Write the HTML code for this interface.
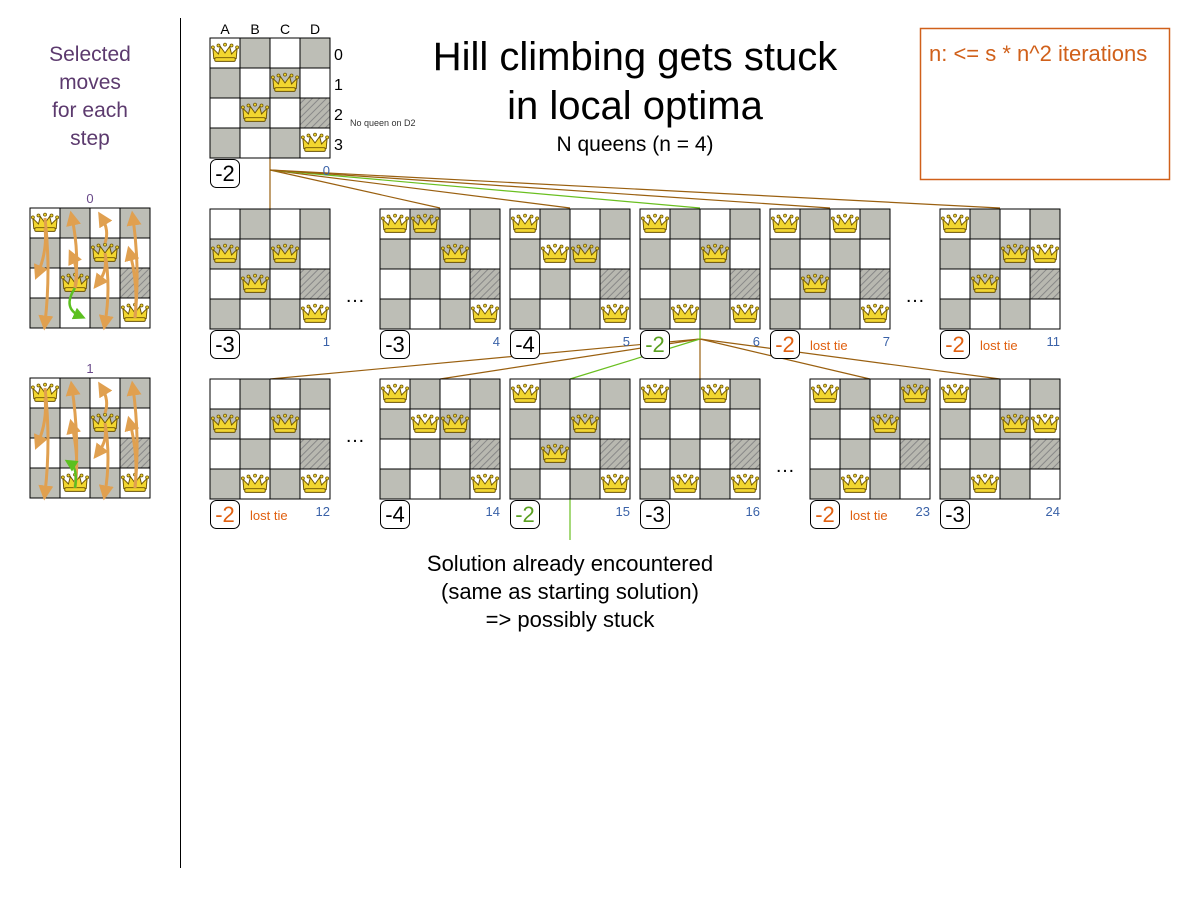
<!DOCTYPE html>
<html><head><meta charset="utf-8"><style>
body{margin:0;background:#fff;}
svg{display:block;font-family:"Liberation Sans",sans-serif;}
</style></head><body>
<svg id="s" width="1200" height="900" viewBox="0 0 1200 900">
<defs>
<pattern id="hatch" width="5" height="5" patternUnits="userSpaceOnUse" patternTransform="rotate(45)">
<rect width="5" height="5" fill="#b8b8b0"/><line x1="0" y1="0" x2="0" y2="5" stroke="#888" stroke-width="2"/></pattern>
<symbol id="crown" viewBox="0 0 30 22">
<path d="M3 17 L2 6 L8 12 L10 4 L15 11 L20 4 L22 12 L28 6 L27 17 Z" fill="#f2d630" stroke="#6b5200" stroke-width="1"/>
<rect x="4" y="16" width="22" height="4" rx="1.5" fill="#f2d630" stroke="#6b5200" stroke-width="1"/>
<circle cx="2" cy="5" r="1.6" fill="#f2d630" stroke="#6b5200" stroke-width=".8"/>
<circle cx="8" cy="3" r="1.6" fill="#f2d630" stroke="#6b5200" stroke-width=".8"/>
<circle cx="15" cy="2" r="1.6" fill="#f2d630" stroke="#6b5200" stroke-width=".8"/>
<circle cx="22" cy="3" r="1.6" fill="#f2d630" stroke="#6b5200" stroke-width=".8"/>
<circle cx="28" cy="5" r="1.6" fill="#f2d630" stroke="#6b5200" stroke-width=".8"/>
</symbol>
<marker id="ah" markerWidth="5" markerHeight="5" refX="2.5" refY="2.5" orient="auto"><path d="M0 0 L5 2.5 L0 5 Z" fill="#e0a050"/></marker>
<marker id="ahg" markerWidth="5" markerHeight="5" refX="2.5" refY="2.5" orient="auto"><path d="M0 0 L5 2.5 L0 5 Z" fill="#5cc020"/></marker>
</defs>
<line x1="180.5" y1="18" x2="180.5" y2="868" stroke="#000" stroke-width="1"/>
<g fill="#5c3a6e" font-size="21" text-anchor="middle">
<text x="90" y="61">Selected</text><text x="90" y="89">moves</text><text x="90" y="117">for each</text><text x="90" y="145">step</text></g>
<g font-size="40" text-anchor="middle" fill="#000">
<text x="635" y="70">Hill climbing gets stuck</text><text x="635" y="119">in local optima</text></g>
<text x="635" y="151" font-size="21" text-anchor="middle">N queens (n = 4)</text>
<rect x="920.5" y="28.5" width="249" height="151" fill="#fff" stroke="#d0601a" stroke-width="1.5"/>
<text x="929" y="61" font-size="22" fill="#d0601a">n: &lt;= s * n^2 iterations</text>
<g id="links"></g>
<g id="boards"></g>
<g fill="#000" font-size="22" text-anchor="middle">
<text x="570" y="571">Solution already encountered</text><text x="570" y="599">(same as starting solution)</text><text x="570" y="627">=&gt; possibly stuck</text></g>
<g font-size="20"><text x="345" y="302">…</text><text x="345" y="442">…</text><text x="905" y="302">…</text><text x="775" y="472">…</text></g>
</svg>
<script>
const boardIds=["0","1","4","5","6","7","11","12","14","15","16","23","24"];
const boardQueens=[[0,2,1,3],[1,2,1,3],[0,0,1,3],[0,1,1,3],[0,3,1,3],[0,2,0,3],[0,2,1,1],[1,3,1,3],[0,1,1,3],[0,2,1,3],[0,3,0,3],[0,3,1,0],[0,3,1,1]];
const boardScores=[-2,-3,-3,-4,-2,-2,-2,-2,-4,-2,-3,-2,-3];
const boardStatus=["","","","","chosen","tie","tie","tie","","chosen","","tie",""];
const boardX=[210,210,380,510,640,770,940,210,380,510,640,810,940];
const boardY=[38,209,209,209,209,209,209,379,379,379,379,379,379];
const NS="http://www.w3.org/2000/svg";
const svg=document.getElementById('s');
const G=document.getElementById('boards');
function el(t,a,p){const e=document.createElementNS(NS,t);for(const k in a)e.setAttribute(k,a[k]);(p||G).appendChild(e);return e;}
function drawBoard(x,y,q,name){
  const g=el('g',{});
  
  
  for(let r=0;r<4;r++)for(let c=0;c<4;c++){
    const fill=(r==2&&c==3)?'url(#hatch)':((r+c)%2?'#bdbeb6':'#fff');
    el('rect',{x:x+c*30,y:y+r*30,width:30,height:30,fill:fill,stroke:'#000','stroke-width':1},g);
  }
  q.forEach((r,c)=>{el('use',{href:'#crown',x:x+c*30+1,y:y+r*30+4,width:28,height:22},g);});
  return g;
}
boardIds.forEach((id,i)=>{
  const x=boardX[i],y=boardY[i];
  const g=drawBoard(x,y,boardQueens[i],'board-'+id);
  const st=boardStatus[i];
  const col=st=='chosen'?'#5aa020':(st=='tie'?'#e06010':'#000');
  const sb=el('g',{},g);
  
  
  el('rect',{x:x+0.5,y:y+121.5,width:29,height:28,rx:6,fill:'#fff',stroke:'#000'},sb);
  el('text',{x:x+15,y:y+143,'font-size':22,'text-anchor':'middle',fill:col},sb).textContent=boardScores[i];
  const lab=el('text',{x:x+120,y:y+137,'font-size':13,'text-anchor':'end',fill:'#3a62a8'},g);
  
  
  lab.textContent=id;
  if(st=='tie'){const t=el('text',{x:x+40,y:y+141,'font-size':13,fill:'#e06010'},g);
    
    
    t.textContent='lost tie';}
});
["A","B","C","D"].forEach((l,c)=>{const t=el('text',{x:225+c*30,y:34,'font-size':14,'text-anchor':'middle'});t.textContent=l;});
[0,1,2,3].forEach(r=>{const t=el('text',{x:334,y:60+r*30,'font-size':16});t.textContent=r;});
const nq=el('text',{x:350,y:126,'font-size':9,fill:'#333'});


nq.textContent='No queen on D2';
const L=document.getElementById('links');
function link(x1,y1,x2,y2,green){const l=el('line',{x1,y1,x2,y2,stroke:green?'#6abf20':'#9a6010','stroke-width':1.2},L);
  
  }
for(let i=1;i<=6;i++)link(270,170,boardX[i]+60,boardY[i]-(i==1?0:1),boardStatus[i]=='chosen');
link(270,158,270,170,false);
for(let i=7;i<=12;i++)link(700,339,boardX[i]+60,boardY[i],boardStatus[i]=='chosen');
link(700,329,700,339,true);
link(570,499,570,540,true);
const stepQueens=[[0,2,1,3],[0,3,1,3]];
const stepY=[208,378];
stepQueens.forEach((q,s)=>{
  const g=drawBoard(30,stepY[s],q,'step-board-'+s);
  const t=el('text',{x:90,y:stepY[s]-5,'font-size':13,'text-anchor':'middle',fill:'#6a4a8a'});
  
  
  t.textContent=s;
  const y=stepY[s];
  const arrows=[[45,y+10,45,y+115],[45,y+20,38,y+65],[75,y+(s?110:80),72,y+10],[75,y+(s?110:80),72,y+48],[105,y+45,105,y+115],[105,y+35,102,y+10],[105,y+50,98,y+75],[135,y+110,133,y+10],[135,y+110,130,y+45]];
  arrows.forEach(a=>{const p=el('path',{d:`M${a[0]} ${a[1]} Q${(a[0]+a[2])/2+6} ${(a[1]+a[3])/2} ${a[2]} ${a[3]}`,fill:'none',stroke:'#e0a050','stroke-width':3,'marker-end':'url(#ah)'},g);
    
    });
  const gp=s?`M75 ${y+110} Q78 ${y+90} 70 ${y+85}`:`M75 ${y+80} Q62 ${y+100} 80 ${y+108}`;
  const p=el('path',{d:gp,fill:'none',stroke:'#5cc020','stroke-width':2.5,'marker-end':'url(#ahg)'},g);
  
  
});
</script>
</body></html>
